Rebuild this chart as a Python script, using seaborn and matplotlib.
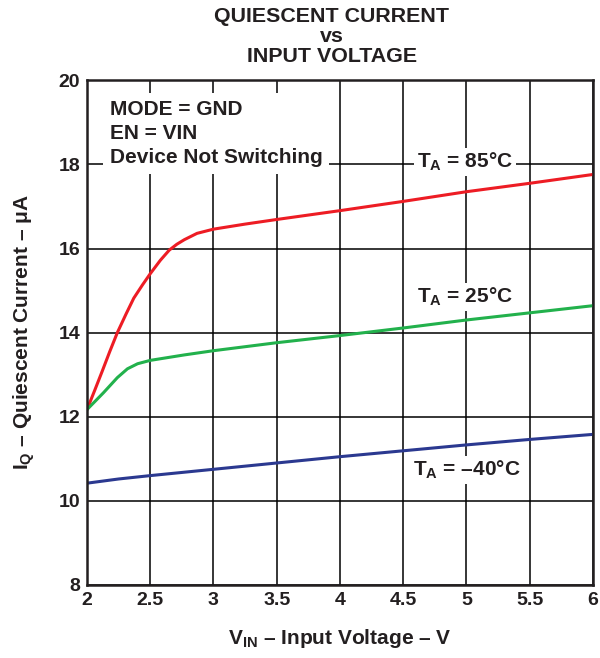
import matplotlib
matplotlib.use("Agg")
import matplotlib.pyplot as plt
import seaborn as sns
import pandas as pd

# Quiescent current (uA) vs input voltage (V) at three ambient temperatures
v_85 = [2.0, 2.06, 2.12, 2.18, 2.24, 2.31, 2.37, 2.44, 2.5, 2.58, 2.65, 2.71, 2.77, 2.87,
        3.0, 3.25, 3.5, 4.0, 4.5, 5.0, 5.5, 6.0]
iq_85 = [12.17, 12.62, 13.08, 13.55, 14.0, 14.45, 14.82, 15.14, 15.4, 15.72, 15.96, 16.1,
         16.21, 16.36, 16.46, 16.58, 16.69, 16.9, 17.12, 17.35, 17.55, 17.76]

v_25 = [2.0, 2.13, 2.24, 2.32, 2.4, 2.5, 2.77, 3.0, 3.5, 4.0, 4.5, 5.0, 5.5, 6.0]
iq_25 = [12.17, 12.57, 12.93, 13.14, 13.26, 13.34, 13.47, 13.57, 13.76, 13.93, 14.11, 14.3, 14.47, 14.64]

v_m40 = [2.0, 2.25, 2.5, 3.0, 3.5, 4.0, 4.5, 5.0, 5.5, 6.0]
iq_m40 = [10.42, 10.52, 10.6, 10.75, 10.9, 11.05, 11.19, 11.33, 11.46, 11.58]

series_names = ["85", "25", "-40"]
series_colors = ["#ED1C24", "#22B14C", "#2B3990"]
x_ticks = [2, 2.5, 3, 3.5, 4, 4.5, 5, 5.5, 6]
x_tick_labels = ["2", "2.5", "3", "3.5", "4", "4.5", "5", "5.5", "6"]
y_ticks = [8, 10, 12, 14, 16, 18, 20]

df = pd.concat([
    pd.DataFrame({"V": v_85, "IQ": iq_85, "T": "85"}),
    pd.DataFrame({"V": v_25, "IQ": iq_25, "T": "25"}),
    pd.DataFrame({"V": v_m40, "IQ": iq_m40, "T": "-40"}),
])

sns.set_style("white")
plt.rcParams["font.family"] = ["Liberation Sans", "DejaVu Sans"]
plt.rcParams["font.weight"] = "bold"
plt.rcParams["mathtext.fontset"] = "custom"
plt.rcParams["mathtext.rm"] = "Liberation Sans:bold"
plt.rcParams["mathtext.default"] = "rm"

INK = "#231F20"

fig = plt.figure(figsize=(6.0, 6.58), dpi=100)
ax = fig.add_axes([0.145, 0.111, 0.843, 0.767])

sns.lineplot(data=df, x="V", y="IQ", hue="T", hue_order=series_names,
             palette=dict(zip(series_names, series_colors)), linewidth=2.2,
             legend=False, ax=ax, sort=True, estimator=None)

ax.set_xlim(2, 6)
ax.set_ylim(8, 20)
ax.set_xticks(x_ticks)
ax.set_xticklabels(x_tick_labels)
ax.set_yticks(y_ticks)
ax.tick_params(axis="both", length=0, labelsize=14, pad=5)
for lab in ax.get_xticklabels() + ax.get_yticklabels():
    lab.set_fontweight("bold")
    lab.set_color(INK)

ax.grid(True, color="black", linewidth=1.1)
ax.set_axisbelow(True)
for sp in ax.spines.values():
    sp.set_linewidth(1.8)
    sp.set_color(INK)

ax.set_xlabel(r"V$_\mathregular{IN}$ – Input Voltage – V", fontsize=15,
              fontweight="bold", color=INK, labelpad=13)
ax.set_ylabel(r"I$_\mathregular{Q}$ – Quiescent Current – μA", fontsize=15,
              fontweight="bold", color=INK, labelpad=15)

box = dict(facecolor="white", edgecolor="none", pad=2)
label_kw = dict(fontsize=15, fontweight="bold", color=INK,
                ha="center", va="center", bbox=box, zorder=5)
ax.text(4.99, 18.05, r"T$_\mathregular{A}$ = 85°C", **label_kw)
ax.text(4.99, 14.84, r"T$_\mathregular{A}$ = 25°C", **label_kw)
ax.text(5.0, 10.73, r"T$_\mathregular{A}$ = –40°C", **label_kw)

ax.text(2.18, 19.53, "MODE = GND\nEN = VIN\nDevice Not Switching",
        fontsize=15, fontweight="bold", color=INK, ha="left", va="top",
        linespacing=1.32, zorder=5,
        bbox=dict(facecolor="white", edgecolor="none", pad=5))

title_kw = dict(fontsize=15.4, fontweight="bold", color=INK, ha="center", va="center")
fig.text(0.553, 0.975, "QUIESCENT CURRENT", **title_kw)
fig.text(0.553, 0.945, "vs", **title_kw)
fig.text(0.553, 0.914, "INPUT VOLTAGE", **title_kw)

fig.savefig("out.png", dpi=100)
